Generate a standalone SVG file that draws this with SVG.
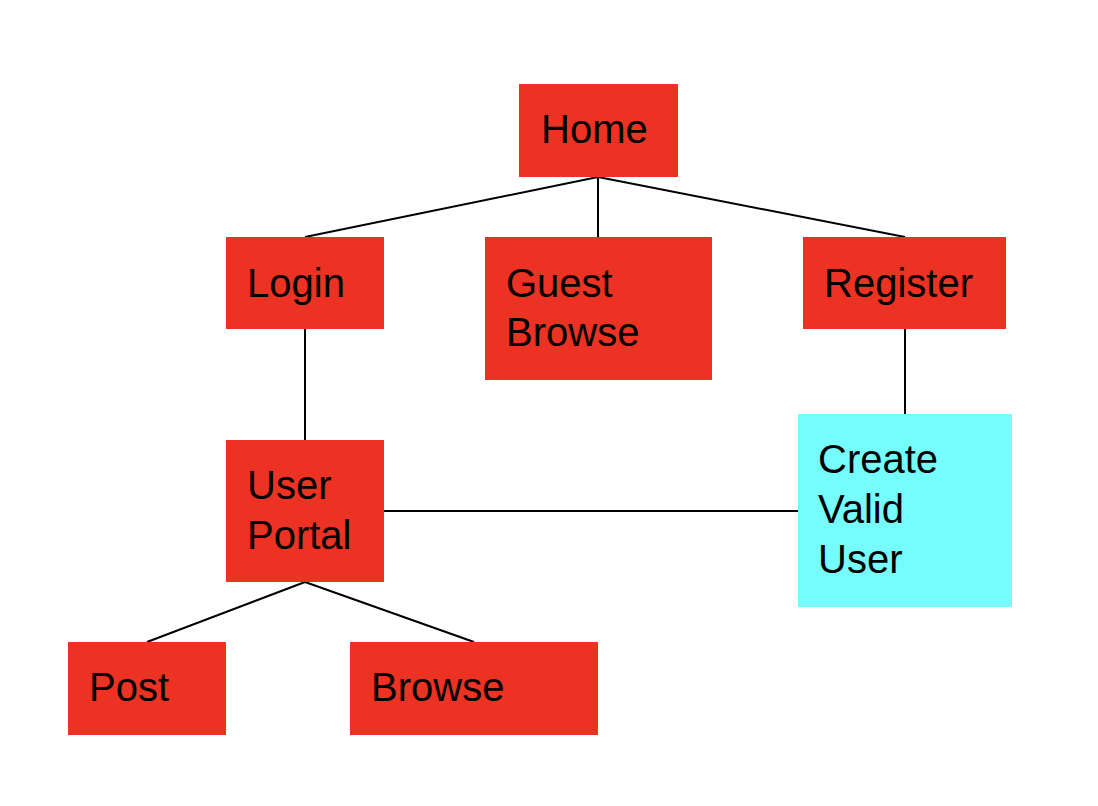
<svg xmlns="http://www.w3.org/2000/svg" width="1098" height="806" viewBox="0 0 1098 806">
<style>
.n{fill:#eb3223}
.c{fill:#75fcfd}
.t{font-family:"Liberation Sans",Arial,sans-serif;font-size:40px;fill:#000}
.e{stroke:#000;stroke-width:2;fill:none}
</style>
<rect width="1098" height="806" fill="#fff"/>
<g id="connectors">
<line class="e" x1="598" y1="177" x2="305" y2="237"/>
<line class="e" x1="598" y1="177" x2="598" y2="237"/>
<line class="e" x1="598" y1="177" x2="905" y2="237"/>
<line class="e" x1="305" y1="329" x2="305" y2="440"/>
<line class="e" x1="905" y1="329" x2="905" y2="414"/>
<line class="e" x1="384" y1="511" x2="798" y2="511"/>
<line class="e" x1="305" y1="582" x2="147" y2="642"/>
<line class="e" x1="305" y1="582" x2="474" y2="642"/>
</g>
<g id="home"><rect class="n" x="519" y="84" width="159" height="93"/><text class="t" x="541" y="143">Home</text></g>
<g id="login"><rect class="n" x="226" y="237" width="158" height="92"/><text class="t" x="247" y="297">Login</text></g>
<g id="guest"><rect class="n" x="485" y="237" width="227" height="143"/><text class="t" x="506" y="297">Guest</text><text class="t" x="506" y="346">Browse</text></g>
<g id="register"><rect class="n" x="803" y="237" width="203" height="92"/><text class="t" x="824" y="297">Register</text></g>
<g id="create"><rect class="c" x="798" y="414" width="214" height="193"/><text class="t" x="818" y="473">Create</text><text class="t" x="818" y="523">Valid</text><text class="t" x="818" y="573">User</text></g>
<g id="portal"><rect class="n" x="226" y="440" width="158" height="142"/><text class="t" x="247" y="499">User</text><text class="t" x="247" y="549">Portal</text></g>
<g id="post"><rect class="n" x="68" y="642" width="158" height="93"/><text class="t" x="89" y="701">Post</text></g>
<g id="browse"><rect class="n" x="350" y="642" width="248" height="93"/><text class="t" x="371" y="701">Browse</text></g>
</svg>
